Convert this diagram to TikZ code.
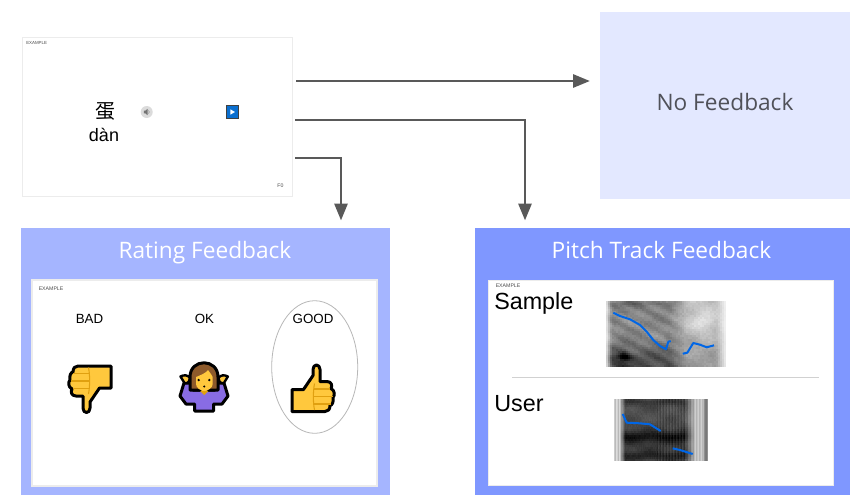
\documentclass[tikz,border=0pt]{standalone}
\usepackage{fontspec}
\setmainfont{Liberation Sans}
\newfontfamily\headfont{Open Sans}
\newfontfamily\cjkfont{Noto Sans CJK SC}
\usepackage{tikz}
\usetikzlibrary{arrows.meta}

\definecolor{flowgray}{RGB}{89,89,89}
\definecolor{cardedge}{RGB}{236,236,236}
\definecolor{nofbblue}{RGB}{227,232,255}
\definecolor{rateblue}{RGB}{165,181,255}
\definecolor{pitchblue}{RGB}{127,151,255}
\definecolor{emojiyellow}{RGB}{255,200,61}
\definecolor{emojiorange}{RGB}{224,160,16}
\definecolor{emojipurple}{RGB}{136,108,228}
\definecolor{emojibrown}{RGB}{141,90,43}
\definecolor{trackblue}{RGB}{0,102,230}
\definecolor{playblue}{RGB}{11,111,207}

\tikzset{
  flowline/.style={draw=flowgray,line width=2.2pt,-{Triangle[length=12.75pt,width=9.75pt]}},
  panelbox/.style={inner sep=0pt,outer sep=0pt},
  cardbox/.style={draw=cardedge,fill=white,line width=1.2pt,inner sep=0pt,outer sep=0pt},
  headtext/.style={anchor=base,text=white,inner sep=0.75pt,font=\headfont\fontsize{17}{19}\selectfont},
  tinytext/.style={anchor=west,inner sep=0pt,text=black!70,font=\fontsize{3.9}{4.5}\selectfont},
  ratetext/.style={inner sep=0.75pt,font=\fontsize{10}{12}\selectfont},
  bigtext/.style={anchor=west,inner sep=0pt,font=\fontsize{17.5}{20}\selectfont},
  emojiline/.style={draw=black,line width=2.25pt,line join=round},
  track/.style={draw=trackblue,line width=1.5pt,line join=round},
  declare function={bump(\p,\c,\s)=1/(1+((\p-\c)/\s)^2);},
  pics/thumbicon/.style={code={
    \draw [emojiline,fill=emojiyellow] (-21,23) -- (-21,1) -- (-9.5,1) -- (0,-13) -- (0,-19) .. controls (0,-25) and (7,-25) .. (7,-19) -- (7,-7) -- (14,-7) .. controls (18,-7) and (20,-3) .. (18,0) .. controls (22,2) and (22,7) .. (20,9) .. controls (21,13) and (19,17) .. (17,17) .. controls (17,21) and (15,23) .. (12,23) -- cycle ;
    \draw [draw=emojiorange,line width=0.8pt] (1.5,-5) .. controls (0,3) and (0,14) .. (1.5,21.5) ;
    \draw [draw=emojiorange,line width=0.8pt] (1,0.5) -- (17,0.5) (0.5,8) -- (19.5,8) (1,15.5) -- (17.5,15.5) ;
  }}
}

\begin{document}
\begin{tikzpicture}[x=0.75pt,y=0.75pt,yscale=-1,xscale=1]
\useasboundingbox (0,0) rectangle (866,501);

% Panels
\draw (725,105.5) node (nofb) [panelbox,fill=nofbblue,minimum width=187.5pt,minimum height=140.25pt] {};
\draw (205.5,361.5) node (ratepanel) [panelbox,fill=rateblue,minimum width=276.75pt,minimum height=200.25pt] {};
\draw (662.5,361.5) node (pitchpanel) [panelbox,fill=pitchblue,minimum width=281.25pt,minimum height=200.25pt] {};

% Cards
\draw (157.5,117) node (stimcard) [cardbox,minimum width=202.5pt,minimum height=119.25pt] {};
\draw (204.5,383) node (ratecard) [cardbox,minimum width=258.75pt,minimum height=154.5pt] {};
\draw (661,383) node (pitchcard) [cardbox,minimum width=258.75pt,minimum height=153.75pt] {};

% Text Node
\draw (725,110) node (nofbtext) [headtext,text=black!65!nofbblue] {No Feedback};
\draw (205,258.5) node (ratehead) [headtext] {Rating Feedback};
\draw (661.5,258.5) node (pitchhead) [headtext] {Pitch Track Feedback};
\draw (26,43) node (stimtag) [tinytext,font=\fontsize{3.3}{4}\selectfont] {EXAMPLE};
\draw (38.5,288.5) node (ratetag) [tinytext] {EXAMPLE};
\draw (495.5,285.5) node (pitchtag) [tinytext] {EXAMPLE};
\draw (280.5,185.5) node (frametag) [inner sep=0pt,text=black!70,font=\fontsize{3.9}{4.5}\selectfont] {F0};
\draw (105,111) node (hanzi) [inner sep=0pt,font=\cjkfont\fontsize{15}{16}\selectfont] {蛋};
\draw (104,134.5) node (pinyin) [inner sep=0pt,font=\fontsize{13.5}{15}\selectfont] {dàn};
\draw (89.5,318.5) node (badtext) [ratetext] {BAD};
\draw (204.5,318.5) node (oktext) [ratetext] {OK};
\draw (313,318.5) node (goodtext) [ratetext] {GOOD};
\draw (494,303) node (sampletext) [bigtext] {Sample};
\draw (494,404) node (usertext) [bigtext] {User};

% Connector ends
\coordinate (outa) at (296,81);
\coordinate (outb) at (295,120);
\coordinate (outc) at (295,158);
\coordinate (ina) at (590,81);
\coordinate (inb) at (525,220.5);
\coordinate (inc) at (341,220.5);

%Straight Lines
\draw [flowline] (outa) -- (ina) ;
\draw [flowline] (outb) -| (inb) ;
\draw [flowline] (outc) -| (inc) ;

% Speaker button
\draw [fill=black!14,draw=none] (146.7,112) circle (6) ;
\fill [black!55] (143.8,110.6) -- (145.4,110.6) -- (147.6,108.8) -- (147.6,115.2) -- (145.4,113.4) -- (143.8,113.4) -- cycle ;
\draw [black!55,line width=0.3pt] (148.6,110.4) .. controls (149.5,111.4) and (149.5,112.6) .. (148.6,113.6) ;

% Play button
\draw [fill=playblue,draw=black!75,line width=0.75pt] (226.3,105.5) rectangle (238.6,118.5) ;
\fill [white] (230.3,109.3) -- (235,112) -- (230.3,114.7) -- cycle ;

% Rating ellipse
\draw [draw=black!28,line width=0.6pt] (314.7,367) ellipse (43 and 66.3) ;

% Thumbs
\pic [transform shape] at (313,388.5) {thumbicon} ;
\pic [transform shape,rotate=180] at (90,389) {thumbicon} ;

% Shrugging person
\draw [emojiline,fill=emojipurple] (194.7,411) -- (213.7,411) -- (213.7,404) -- (222,404) -- (228,396) -- (224,383) -- (217,383) -- (215,390) -- (193,390) -- (191,383) -- (184,383) -- (180,396) -- (186,404) -- (194.7,404) -- cycle ;
\draw [emojiline,line width=1.8pt,fill=emojiyellow] (180.5,376.5) .. controls (184,374.5) and (188,375) .. (190,378) .. controls (189.5,381) and (188.5,383) .. (187,383) -- (184.5,383) -- cycle ;
\draw [emojiline,line width=1.8pt,fill=emojiyellow] (227.9,376.5) .. controls (224.4,374.5) and (220.4,375) .. (218.4,378) .. controls (218.9,381) and (219.9,383) .. (221.4,383) -- (223.9,383) -- cycle ;
\draw [emojiline,fill=emojibrown] (190,390) -- (190,377) .. controls (190,358) and (218,358) .. (218,377) -- (218,390) -- cycle ;
\fill [emojiyellow] (196,377) .. controls (201,375) and (206,373) .. (208,370) .. controls (210,373) and (212,375) .. (212.7,377) -- (212.7,384) .. controls (212.7,388) and (208,390) .. (204.3,392) .. controls (200.5,390) and (196,388) .. (196,384) -- cycle ;
\fill [black] (198.7,380) circle (1.3) (209.3,380) circle (1.3) (204.2,386.5) circle (1.1) ;
\fill [emojiorange] (200,391) -- (208.5,391) -- (204.2,395) -- cycle ;

% Sample spectrogram
\pgfmathsetseed{7}
\foreach \x in {606,608,...,724} {
  \foreach \y in {301,303,...,365} {
    \pgfmathsetmacro\mixr{max(0,min(1,(\x-668)/18))}
    \pgfmathsetmacro\edge{max(0.12,min(1,(\x-604)/7))*max(0.15,min(1,(727-\x)/12))}
    \pgfmathsetmacro\dark{\edge*((1-\mixr)*(44+26*max(0,(\y-335)/32)+5*sin(26*\y-14*\x)+5*sin(7*\x)*sin(11*\y)+10*bump(\y,303,3)+50*bump(\x,623,6)*bump(\y,356,3.5))+\mixr*(25+14*(\y-301)/66-20*bump(\x,702,14)*bump(\y,322,12)+4*sin(9*\x)*sin(13*\y))+5*rnd)}
    \pgfmathsetmacro\dark{max(0,min(100,\dark))}
    \fill [black!\dark] (\x,\y) rectangle ++(2.4,2.4) ;
  }
}
\draw [track] (613.3,312.7) -- (620,316) -- (630,319.3) -- (640,325) -- (646.7,331.7) -- (653.3,340) -- (660,346) -- (666,349.3) -- (668.3,341.7) -- (670.7,341) ;
\draw [track] (682.7,353.7) -- (687.3,352.7) -- (693.3,343) -- (700,344.7) -- (706.7,347.3) -- (714,345.3) ;

%Straight Lines
\draw [draw=black!18,line width=1.1pt] (512.3,377.7) -- (819,377.7) ;

% User spectrogram
\foreach \x in {614,615,...,707} {
  \foreach \y in {399,401,...,460} {
    \pgfmathsetmacro\mixl{max(0,min(1,(\x-619)/6))}
    \pgfmathsetmacro\mixr{max(0,min(1,(\x-684)/11))}
    \pgfmathsetmacro\dark{(1-\mixl)*(20+8*sin(115*(\x-614)))+\mixl*(1-\mixr)*(64+26*bump(\y,436,6)+18*bump(\y,455,5)+12*bump(\y,401,4)+4*sin(9*\x)*sin(17*\y)+(\x>655 ? 5*sin(120*(\x-614)) : 0)+4*rnd)+\mixl*\mixr*(24+6*sin(115*(\x-614))+(\x>703 ? 25 : 0))}
    \pgfmathsetmacro\dark{max(0,min(100,\dark))}
    \fill [black!\dark] (\x,\y) rectangle ++(1.3,2.4) ;
  }
}
\draw [track] (622.7,414) -- (626.7,422.7) -- (640,423.3) -- (650,424.3) -- (660.7,431) ;
\draw [track] (672.7,448.3) -- (680,450) -- (692.7,454) ;

\end{tikzpicture}
\end{document}
